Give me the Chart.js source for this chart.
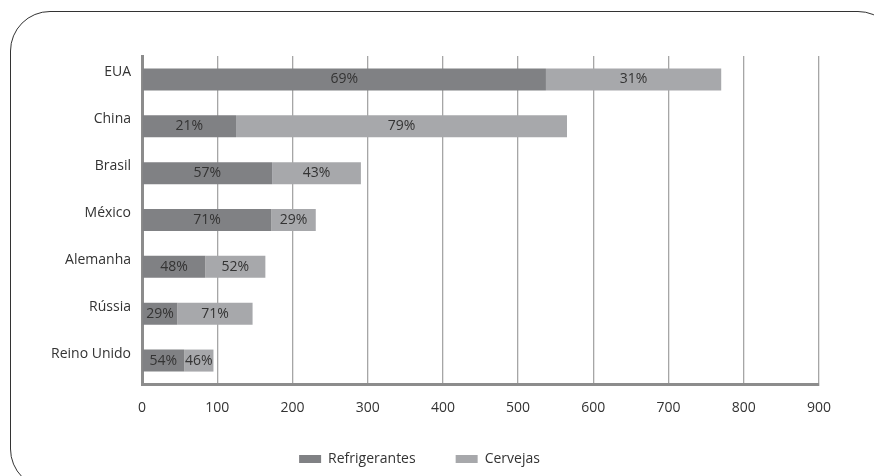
<!DOCTYPE html>
<html>
<head>
<meta charset="utf-8">
<script src="https://cdn.jsdelivr.net/npm/chart.js@4/dist/chart.umd.min.js"></script>
<style>
  html, body { margin: 0; padding: 0; background: #fff; overflow: hidden; }
  .wrap { position: relative; width: 874px; height: 476px; overflow: hidden; }
  .frame {
    position: absolute; left: 10px; top: 11px; width: 888px; height: 478px;
    border: 1.5px solid #333; border-radius: 40px; box-sizing: border-box;
  }
  canvas { position: absolute; left: 0; top: 0; }
</style>
</head>
<body>
<div class="wrap">
  <div class="frame"></div>
  <canvas id="myChart" width="874" height="476"></canvas>
</div>
<script>
const countries = ['EUA', 'China', 'Brasil', 'México', 'Alemanha', 'Rússia', 'Reino Unido'];
const refrigerantes = [537, 125, 173, 172, 84, 47, 56];
const cervejas = [233, 440, 118, 59, 80, 100, 39];
const pctRefrigerantes = ['69%', '21%', '57%', '71%', '48%', '29%', '54%'];
const pctCervejas = ['31%', '79%', '43%', '29%', '52%', '71%', '46%'];
const xTicks = [0, 100, 200, 300, 400, 500, 600, 700, 800, 900];

const font = '"Open Sans", "DejaVu Sans", sans-serif';

const segmentLabels = {
  id: 'segmentLabels',
  afterDatasetsDraw(chart) {
    const ctx = chart.ctx;
    const sets = [pctRefrigerantes, pctCervejas];
    ctx.save();
    ctx.font = '14px ' + font;
    ctx.fillStyle = '#333';
    ctx.textAlign = 'center';
    ctx.textBaseline = 'middle';
    sets.forEach((labels, di) => {
      chart.getDatasetMeta(di).data.forEach((bar, i) => {
        const cx = (bar.x + bar.base) / 2;
        ctx.fillText(labels[i], cx, bar.y);
      });
    });
    ctx.restore();
  }
};

// legend sits a bit right of the plot centre in the original
const legendShift = {
  id: 'legendShift',
  afterLayout(chart) {
    const lg = chart.legend;
    lg.left += 10;
    lg.right += 10;
  }
};

const ctx = document.getElementById('myChart').getContext('2d');
new Chart(ctx, {
  type: 'bar',
  data: {
    labels: countries,
    datasets: [{
      label: 'Refrigerantes',
      data: refrigerantes,
      backgroundColor: '#808184',
      barPercentage: 0.47,
      categoryPercentage: 1
    }, {
      label: 'Cervejas',
      data: cervejas,
      backgroundColor: '#a7a8ab',
      barPercentage: 0.47,
      categoryPercentage: 1
    }]
  },
  options: {
    indexAxis: 'y',
    responsive: false,
    animation: false,
    layout: { padding: { top: 56, left: 0, right: 55, bottom: 0 } },
    scales: {
      x: {
        stacked: true,
        min: 0,
        max: 900,
        afterBuildTicks: (s) => { s.ticks = xTicks.map(v => ({ value: v })); },
        afterFit: (s) => { s.height = 28; },
        grid: { color: '#a6a6a6', lineWidth: 1.3, drawTicks: false },
        border: { color: '#8c8c8c', width: 3 },
        ticks: { color: '#333', padding: 16, font: { family: font, size: 14 } }
      },
      y: {
        stacked: true,
        afterFit: (s) => { s.width = 142; },
        grid: { display: false, drawTicks: false },
        border: { color: '#8c8c8c', width: 3 },
        ticks: { color: '#333', padding: 11, labelOffset: -7, font: { family: font, size: 14 } }
      }
    },
    plugins: {
      legend: {
        position: 'bottom',
        labels: {
          boxWidth: 22,
          boxHeight: 8,
          padding: 40,
          color: '#333',
          font: { family: font, size: 14 }
        }
      },
      tooltip: { enabled: false }
    }
  },
  plugins: [segmentLabels, legendShift]
});
</script>
</body>
</html>
